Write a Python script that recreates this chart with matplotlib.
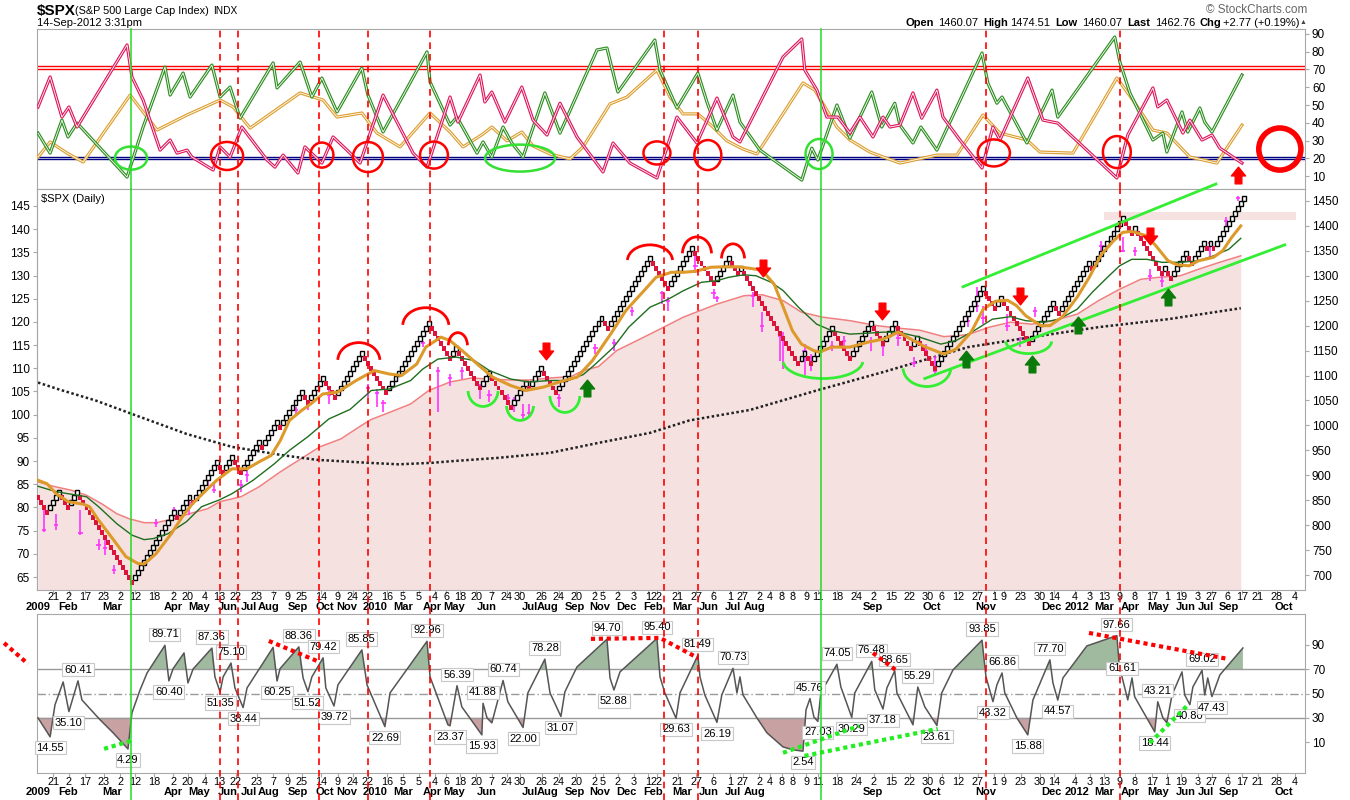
import matplotlib
matplotlib.use("Agg")
import matplotlib.pyplot as plt
import matplotlib.patheffects as pe
from matplotlib.patches import Ellipse, Arc
from matplotlib.path import Path
import numpy as np

plt.rcParams['font.family'] = ['Liberation Sans', 'DejaVu Sans']

# ---------------- data ----------------
# renko reversal levels (price / 10), box size 10 points
renko_turns = [87, 82, 87, 83, 87, 68, 83, 81, 86, 84, 93, 90, 94, 90, 97, 95, 101, 99, 107, 104,
               110, 105, 115, 106, 121, 113, 116, 107, 111, 103, 109, 107, 112, 106, 122, 119, 134,
               127, 136, 128, 134, 130, 132, 112, 115, 112, 120, 113, 121, 116, 121, 115, 118, 111,
               128, 123, 126, 116, 125, 122, 133, 131, 142, 138, 140, 130, 132, 129, 135, 132, 137,
               135, 137, 135, 146]
box = 10

# moving averages (x = brick number)
ma_short_x = [0, 3, 6, 10, 15, 17, 20, 25, 29, 33, 35, 39, 44, 48, 51, 56, 59, 64, 69, 73, 77, 80, 83, 87,
              90, 94, 99, 105, 111, 116, 120, 125, 128, 133, 136, 140, 145, 150, 156, 161, 167, 172, 178,
              183, 189, 194, 200, 204, 209, 213, 217, 222, 226, 231, 235, 239, 243, 246, 249, 252, 256,
              258, 262, 268, 274, 279, 284, 289, 293, 299, 303, 308, 312, 316, 320, 323, 326, 331, 334,
              338, 343, 347, 351, 355, 358, 361, 366, 369, 373, 376, 380, 383, 388, 391, 394, 397]
ma_short_y = [890, 883, 863, 847, 842, 837, 810, 770, 737, 723, 722, 743, 783, 820, 843, 873, 890, 913, 913,
              927, 940, 970, 1010, 1030, 1043, 1063, 1067, 1090, 1110, 1103, 1100, 1123, 1157, 1177, 1170,
              1150, 1123, 1097, 1080, 1070, 1077, 1087, 1097, 1130, 1183, 1230, 1270, 1297, 1307, 1307,
              1309, 1317, 1318, 1318, 1315, 1311, 1283, 1237, 1190, 1163, 1150, 1147, 1157, 1157, 1167,
              1173, 1187, 1170, 1157, 1143, 1153, 1187, 1233, 1249, 1251, 1240, 1220, 1200, 1200, 1217,
              1257, 1297, 1343, 1370, 1387, 1389, 1380, 1360, 1330, 1322, 1320, 1330, 1337, 1350, 1377, 1400]
ma_mid_x = [0, 6, 13, 16, 20, 26, 31, 35, 38, 43, 49, 54, 60, 64, 71, 78, 83, 89, 96, 103, 110, 116, 123,
            127, 132, 138, 144, 149, 156, 162, 169, 175, 180, 184, 190, 195, 202, 208, 213, 219, 224, 228,
            233, 237, 242, 246, 251, 257, 262, 268, 274, 279, 284, 291, 298, 303, 309, 315, 321, 326, 332,
            337, 343, 348, 353, 357, 361, 366, 371, 377, 383, 388, 393, 397]
ma_mid_y = [878, 867, 860, 857, 837, 803, 780, 771, 773, 783, 807, 837, 851, 863, 890, 923, 950, 977, 1013,
            1032, 1070, 1073, 1090, 1113, 1133, 1137, 1130, 1110, 1093, 1087, 1090, 1090, 1102, 1123, 1157,
            1197, 1237, 1253, 1270, 1287, 1290, 1297, 1302, 1300, 1287, 1270, 1237, 1203, 1190, 1183, 1185,
            1187, 1187, 1177, 1163, 1170, 1190, 1213, 1218, 1210, 1207, 1213, 1233, 1267, 1297, 1320, 1333,
            1333, 1327, 1327, 1330, 1340, 1353, 1375]
ma_long_x = [0, 5, 11, 16, 21, 26, 30, 35, 39, 45, 50, 56, 60, 67, 73, 80, 86, 93, 100, 106, 110, 116, 123,
             129, 136, 143, 149, 156, 162, 169, 176, 180, 185, 191, 202, 213, 224, 233, 239, 246, 252, 259,
             268, 277, 284, 291, 299, 307, 314, 321, 328, 335, 343, 350, 357, 364, 370, 377, 383, 390, 397]
ma_long_y = [887, 878, 870, 860, 843, 823, 813, 805, 805, 813, 823, 833, 847, 857, 877, 907, 930, 957, 973,
             997, 1012, 1026, 1043, 1070, 1087, 1095, 1093, 1091, 1091, 1095, 1098, 1110, 1118, 1150, 1183,
             1217, 1243, 1260, 1262, 1250, 1227, 1217, 1210, 1200, 1195, 1191, 1178, 1182, 1197, 1207, 1203,
             1210, 1223, 1250, 1273, 1293, 1297, 1300, 1313, 1327, 1340]
ma200_x = [0, 7, 19, 31, 49, 64, 81, 92, 109, 119, 130, 136, 152, 169, 185, 202, 215, 235, 257, 279, 307,
           328, 350, 373, 397]
ma200_y = [1086, 1072, 1050, 1023, 983, 957, 940, 931, 925, 922, 925, 928, 935, 945, 965, 985, 1010, 1031,
           1070, 1107, 1157, 1177, 1197, 1213, 1235]

# closes / ranges drawn as magenta ticks
wick_x = [2, 6, 14, 20, 22, 25, 39, 45, 50, 56, 58, 67, 69, 85, 89, 96, 109, 112, 114, 127, 132, 136, 140,
          146, 149, 155, 157, 160, 162, 172, 184, 190, 196, 206, 208, 217, 223, 224, 236, 239, 245, 246,
          253, 255, 262, 266, 275, 279, 284, 289, 293, 296, 307, 310, 312, 320, 324, 329, 351, 358, 362,
          367, 371, 387, 392, 396]
wick_lo = [787, 790, 780, 750, 740, 703, 797, 817, 820, 878, 865, 867, 887, 1023, 1030, 1043, 1057, 1037,
           1027, 1157, 1027, 1080, 1093, 1053, 1047, 1043, 1027, 1010, 1017, 1037, 1143, 1150, 1220, 1243,
           1230, 1305, 1253, 1247, 1237, 1187, 1130, 1113, 1102, 1110, 1150, 1160, 1150, 1140, 1160, 1117,
           1140, 1103, 1197, 1227, 1203, 1190, 1157, 1217, 1350, 1347, 1340, 1290, 1277, 1333, 1400, 1450]
wick_hi = [830, 823, 830, 773, 770, 720, 813, 837, 857, 900, 887, 890, 917, 1037, 1050, 1073, 1083, 1073,
           1050, 1170, 1117, 1103, 1117, 1083, 1070, 1063, 1057, 1043, 1043, 1063, 1163, 1173, 1238, 1270,
           1257, 1340, 1273, 1260, 1267, 1227, 1187, 1187, 1163, 1143, 1170, 1180, 1177, 1170, 1185, 1137,
           1163, 1140, 1223, 1277, 1240, 1223, 1177, 1237, 1370, 1377, 1357, 1313, 1300, 1370, 1417, 1460]
wick_cl = [791, 800, 785, 760, 755, 710, 805, 830, 845, 890, 870, 880, 900, 1030, 1040, 1060, 1075, 1065,
           1045, 1165, 1110, 1095, 1110, 1080, 1060, 1055, 1050, 1020, 1025, 1055, 1155, 1165, 1230, 1265,
           1250, 1320, 1265, 1255, 1260, 1200, 1180, 1175, 1150, 1135, 1160, 1170, 1170, 1160, 1175, 1125,
           1150, 1110, 1210, 1240, 1215, 1200, 1165, 1230, 1360, 1350, 1350, 1300, 1290, 1365, 1410, 1455]

# top panel oscillators
pink_x = [0, 4, 7.9, 10.2, 12.9, 29.4, 31, 34.7, 40.3, 43.6, 45.9, 49.2, 50.8, 57.8, 60.1, 63.4, 67.3, 75.6,
          78.2, 80.9, 85.8, 88.1, 93.7, 97.4, 102, 106.3, 113.9, 123.8, 128.4, 136, 138.6, 145.9, 147.5,
          149.8, 154.1, 159.7, 163.4, 168, 172.3, 177.9, 186.5, 189.8, 195.4, 204.3, 210.9, 217.5, 224.1,
          229.4, 231.7, 245.9, 252.1, 253.1, 257.1, 260.4, 264, 268, 271.3, 275.6, 278.9, 281.2, 284.5,
          288.8, 291.7, 296.7, 298.7, 304.3, 311.6, 315.2, 317.5, 326.7, 331.7, 336.6, 346.2, 356.1, 359.7,
          368, 369.6, 372.6, 377.9, 380.2, 384.2, 387.5, 390.1, 397.4]
pink_y = [48.9, 65.8, 43.2, 48.9, 37.6, 83.8, 65.8, 52.8, 24.6, 30.3, 22.9, 24.6, 20.7, 13.4, 26.4, 20.7,
          37.6, 19, 15, 21.8, 11.7, 26.4, 17.3, 32, 24.6, 17.3, 55.6, 22.9, 15, 54.5, 40.4, 66.9, 51.7, 57.3,
          40.4, 60.1, 41.5, 33.1, 51, 32, 12.3, 28.6, 17.3, 8.9, 43.2, 28.6, 53.9, 32, 29.2, 77, 87.2, 69.7,
          58.4, 43.2, 43.2, 34.2, 43.2, 32, 43.2, 37.6, 38.7, 56.8, 42.6, 58.4, 43.2, 30.3, 14.5, 37.6, 30.3,
          65.2, 41.5, 39.8, 24.6, 8.9, 33.1, 59.6, 48.9, 52.8, 34.2, 41.5, 30.3, 33.1, 25.7, 17.3]
green_x = [0, 4, 7.9, 9.9, 12.9, 29.4, 34.7, 41.9, 43.6, 47.9, 50.2, 57.4, 60.1, 63.4, 66.7, 77.6, 78.9,
           86.5, 90.4, 93.7, 98.7, 106.9, 108.9, 113.9, 128.4, 129.4, 136, 138.3, 144.9, 146.9, 149.8, 153.5,
           156.4, 160.1, 167.3, 172.3, 184.5, 187.8, 191.4, 203.6, 205.3, 210.9, 217.8, 220.8, 224.1, 229.4,
           231.7, 238.3, 252.1, 255.4, 257.4, 263.7, 268, 275.2, 278.5, 282.8, 284.5, 288.8, 291.4, 296.7,
           311.6, 313.5, 316.5, 318.2, 326.4, 334.7, 336.6, 355.4, 357.1, 360.4, 368, 371.3, 372.6, 377.6,
           379.5, 383.5, 385.1, 387.5, 397.4]
green_y = [34.2, 22.9, 41.5, 32, 39.8, 9.4, 37.6, 71.4, 55.6, 68, 54.5, 72.5, 54.5, 60.1, 42.6, 73.7, 59.6,
           74.2, 54.5, 65.2, 46.1, 70.8, 55.6, 34.8, 79.9, 63, 38.7, 43.2, 22.9, 29.2, 20.7, 37.6, 28.6, 20.7,
           56.8, 34.2, 81, 82.1, 57.3, 86.6, 69.7, 48.3, 68, 51.7, 35.9, 55.6, 40.4, 24.6, 7.7, 25.7, 19, 50,
           31.4, 57.3, 37.6, 51, 38.7, 28.6, 37.6, 24.6, 79.3, 62.4, 51, 54.5, 28.6, 58.4, 43.2, 88.3, 74.2,
           56.8, 30.3, 34.2, 23.5, 46.1, 34.8, 48.3, 40.4, 34.8, 66.9]
orange_x = [0, 4, 9.6, 14.9, 30.4, 39.3, 49.2, 60.1, 64.4, 70, 86.5, 94.1, 98.7, 106.9, 111.9, 119.5, 129.4,
            136, 140.3, 146.9, 149.8, 154.8, 159.7, 163.4, 169, 175.6, 179.9, 188.8, 194.4, 204.3, 208.6,
            212.9, 217.8, 222.8, 227.4, 232.7, 237.3, 252.5, 256.4, 263.7, 268, 274.6, 284.5, 296.7, 303.3,
            311.9, 317.5, 326.4, 330.7, 341.6, 356.1, 361.4, 368, 372.6, 380.2, 389.1, 397.4]
orange_y = [20.7, 29.2, 22.9, 17.9, 55.6, 35.9, 44.4, 52.8, 48.9, 37, 56.8, 52.8, 43.2, 45.5, 34.2, 26.4,
            45.5, 34.8, 26.4, 33.7, 37.6, 29.8, 34.8, 26.9, 22.4, 19.6, 26.4, 50.6, 54.5, 69.7, 54.5, 45, 45,
            37.6, 29.8, 25.2, 22.4, 62.4, 58.4, 37.6, 30.3, 23.5, 17.3, 21.8, 21.8, 44.4, 34.2, 30.3, 23.5,
            22.9, 65.2, 52.8, 35.9, 34.2, 20.7, 17.3, 38.7]

# bottom oscillator
osc_x = [0, 4, 5.6, 8.3, 10.2, 13.2, 14.5, 20.5, 24.8, 29.7, 31, 33.7, 36, 41.9, 43.2, 44.6, 48.2, 49.5,
         51.2, 57.4, 58.4, 60.1, 61.1, 63.7, 65, 67.7, 69, 77.6, 78.9, 79.9, 86.1, 87.5, 89.1, 90.4, 94.1,
         95, 97.7, 99, 106.9, 108.6, 114.5, 116.2, 128.4, 129.4, 135.3, 136, 138.3, 139.9, 146.5, 146.9,
         148.2, 149.8, 153.5, 155.1, 160.1, 161.7, 167.3, 169, 172.6, 173.9, 177.9, 187.8, 188.8, 190.1,
         192.1, 204.3, 205.3, 206.9, 210.6, 211.9, 217.8, 218.5, 220.1, 224.1, 225.7, 229.4, 230.7, 231.7,
         232.7, 237.3, 240.6, 245.9, 249.2, 252.5, 253.5, 254.8, 256.1, 257.4, 258.4, 263.7, 265, 268.6,
         269.6, 275.2, 276.2, 278.9, 280.2, 282.8, 283.5, 288.8, 290.4, 292.7, 296.7, 298.3, 302, 311.6,
         312.9, 315.2, 316.5, 318.2, 319.1, 323.1, 326.7, 328.4, 334, 335, 336.6, 338.3, 346.2, 356.1,
         356.8, 357.8, 359.7, 361.1, 362, 368.6, 369.6, 371.3, 372.6, 374.3, 377.6, 378.5, 380.2, 381.2,
         384.2, 385.1, 386.1, 387.5, 390.1, 397.7]
osc_y = [29.9, 14.3, 40.6, 59.5, 35.1, 60.4, 44.7, 28.3, 17.6, 4.3, 34, 53, 66.9, 89.7, 60.4, 70.5, 83.4,
         58.7, 70.2, 87.4, 63.7, 51.3, 63.7, 75.1, 54.6, 38.4, 54.6, 88, 60.3, 70.5, 88.4, 62.8, 51.5, 63.7,
         79.4, 54.6, 39.7, 57.1, 85.9, 57.1, 22.7, 50.5, 93, 63.7, 24.2, 23.4, 56.4, 39, 15.9, 41.9, 29.9,
         25.8, 60.7, 43.1, 22, 50.5, 78.3, 50.5, 31.1, 51.3, 71.9, 94.7, 62.8, 52.9, 67.8, 95.4, 63.7, 50.5,
         29.6, 50.5, 81.5, 63.7, 48.8, 26.2, 48.8, 70.7, 50.5, 63.7, 48.8, 29.9, 17.6, 6, 3.6, 2.5, 36.5,
         45.8, 30.7, 27, 50.5, 74.1, 55.4, 30.3, 50.5, 76.5, 53, 37.2, 54.6, 68.7, 50.5, 24.2, 55.3, 39,
         23.6, 50.5, 69.4, 93.9, 63.7, 43.3, 57.1, 66.9, 50.5, 29.9, 15.9, 44.7, 77.7, 58.7, 44.6, 62.8,
         89.2, 97.7, 76, 63.7, 44.7, 62.8, 47.2, 18.4, 43.2, 29.9, 25.8, 48.8, 67.8, 48.8, 40.8, 55.4, 69,
         48.8, 62.8, 47.4, 65.3, 87.5]
osc_lab_text = ['14.55', '35.10', '60.41', '4.29', '89.71', '60.40', '87.36', '51.35', '75.10', '38.44',
                '60.25', '88.36', '51.52', '79.42', '39.72', '85.85', '22.69', '92.96', '23.37', '56.39',
                '15.93', '41.88', '60.74', '22.00', '78.28', '31.07', '94.70', '52.88', '95.40', '29.63',
                '81.49', '26.19', '70.73', '2.54', '45.76', '27.03', '74.05', '30.29', '76.48', '37.18',
                '68.65', '55.29', '23.61', '93.85', '43.32', '66.86', '15.88', '77.70', '44.57', '97.66',
                '61.61', '18.44', '43.21', '40.80', '69.02', '47.43']
osc_lab_x = [4, 10.2, 13.2, 29.7, 41.9, 43.2, 57.4, 60.1, 63.7, 67.7, 78.9, 86.1, 89.1, 94.1, 97.7, 106.9,
             114.5, 128.4, 136, 138.3, 146.5, 146.9, 153.5, 160.1, 167.3, 172.6, 187.8, 190.1, 204.3, 210.6,
             217.8, 224.1, 229.4, 252.5, 254.8, 257.4, 263.7, 268.6, 275.2, 278.9, 282.8, 290.4, 296.7,
             311.6, 315.2, 318.2, 326.7, 334, 336.6, 356.1, 357.8, 368.6, 369.6, 380.2, 384.2, 387.5]
osc_lab_kind = ['T', 'T', 'P', 'T', 'P', 'T', 'P', 'T', 'P', 'T', 'T', 'P', 'T', 'P', 'T', 'P', 'T', 'P',
                'T', 'P', 'T', 'P', 'P', 'T', 'P', 'T', 'P', 'T', 'P', 'T', 'P', 'T', 'P', 'T', 'P', 'T',
                'P', 'T', 'P', 'T', 'P', 'P', 'T', 'P', 'T', 'P', 'T', 'P', 'T', 'P', 'P', 'T', 'P', 'T',
                'P', 'T']

# date axis labels (brick positions)
day_x = [5.0, 10.2, 15.5, 21.8, 27.1, 32.0, 38.3, 44.6, 49.5, 55.1, 59.7, 65.3, 72.3, 77.6, 82.5, 87.1,
         93.4, 99.0, 103.9, 108.9, 115.2, 120.5, 125.7, 131.0, 134.7, 139.3, 144.6, 149.8, 154.8, 159.1,
         166.3, 171.9, 177.6, 183.8, 186.5, 191.4, 196.7, 201.3, 204.3, 211.2, 217.2, 222.8, 228.4, 232.7,
         238.0, 241.6, 245.5, 249.2, 253.5, 257.4, 263.7, 270.0, 275.9, 281.8, 287.8, 293.7, 298.3, 303.9,
         310.2, 315.5, 318.8, 324.4, 330.7, 335.3, 342.2, 347.2, 351.8, 357.1, 362.0, 367.7, 372.6, 377.2,
         382.8, 387.5, 392.7, 397.4, 402.6, 408.9, 414.9]
day_text = ['21', '2', '17', '23', '2', '12', '18', '2', '20', '4', '13', '22', '23', '7', '9', '25', '14',
            '9', '24', '22', '16', '5', '5', '4', '6', '18', '20', '7', '24', '30', '26', '24', '20', '2',
            '5', '2', '3', '1', '22', '21', '27', '6', '1', '27', '2', '4', '8', '8', '9', '11', '18', '24',
            '2', '15', '22', '30', '6', '12', '27', '1', '9', '23', '30', '14', '4', '3', '13', '9', '8',
            '17', '1', '19', '3', '27', '6', '17', '21', '28', '4']
month_x = [0.1, 9.9, 24.4, 44.6, 53.1, 62.7, 69.6, 76.2, 85.8, 94.7, 102.0, 111.2, 120.5, 130.0, 137.3,
           148.2, 162.4, 168.3, 177.2, 185.5, 194.1, 203.0, 212.5, 221.5, 229.4, 236.6, 275.6, 295.0,
           312.9, 334.5, 342.8, 352.0, 360.4, 369.6, 378.8, 385.6, 393.2, 411.2]
month_text = ['2009', 'Feb', 'Mar', 'Apr', 'May', 'Jun', 'Jul', 'Aug', 'Sep', 'Oct', 'Nov', '2010', 'Mar',
              'Apr', 'May', 'Jun', 'Jul', 'Aug', 'Sep', 'Nov', 'Dec', 'Feb', 'Mar', 'Jun', 'Jul', 'Aug',
              'Sep', 'Oct', 'Nov', 'Dec', '2012', 'Mar', 'Apr', 'May', 'Jun', 'Jul', 'Sep', 'Oct']

# hand-drawn markup
red_vlines = [60.1, 66.0, 92.7, 108.9, 129.4, 206.6, 217.8, 312.9, 357.1]
green_vlines = [30.7, 258.4]
red_circ_x = [62.4, 93.7, 108.9, 130.7, 204.3, 221.1, 315.5, 356.1]
red_circ_y = [21.3, 21.8, 20.7, 21.8, 23.0, 21.8, 23.0, 23.5]
red_circ_w = [10.6, 7.6, 9.9, 9.2, 8.9, 8.9, 10.6, 9.2]
red_circ_h = [15.8, 14.1, 16.9, 15.2, 13.0, 16.9, 15.2, 18.0]
green_circ_x = [30.7, 159.1, 257.8]
green_circ_y = [20.1, 20.1, 22.4]
green_circ_w = [10.6, 23.1, 8.9]
green_circ_h = [13.0, 15.2, 16.9]
top_arcs_x = [105.9, 128.0, 138.6, 202.0, 217.5, 229.4]
top_arcs_y = [1130, 1200, 1160, 1330, 1344, 1334]
top_arcs_w = [13.9, 15.2, 6.3, 14.9, 9.6, 7.6]
top_arcs_h = [72, 72, 52, 64, 68, 60]
low_arcs_x = [146.9, 159.1, 173.9, 259.1, 293.4, 327.0]
low_arcs_y = [1070, 1040, 1060, 1130, 1116, 1170]
low_arcs_w = [9.9, 8.9, 9.9, 26.4, 15.8, 15.2]
low_arcs_h = [64, 60, 68, 72, 76, 52]
down_arrow_x = [167.7, 239.3, 278.5, 324.1, 367.0]
down_arrow_y = [1150, 1316, 1230, 1260, 1380]
up_arrow_x = [181.2, 306.3, 328.0, 343.2, 373.0]
up_arrow_y = [1076, 1134, 1124, 1202, 1258]

# ---------------- renko bricks ----------------
brick_lo, brick_dir = [], []
top = renko_turns[0]
bot = top - 1
for k in range(1, len(renko_turns)):
    tgt = renko_turns[k]
    if tgt < renko_turns[k - 1]:
        while bot > tgt:
            bot -= 1
            top = bot + 1
            brick_lo.append(bot)
            brick_dir.append(-1)
    else:
        while top < tgt:
            top += 1
            bot = top - 1
            brick_lo.append(bot)
            brick_dir.append(1)
brick_lo = np.array(brick_lo) * box
brick_dir = np.array(brick_dir)
bx = np.arange(len(brick_lo))

# ---------------- figure ----------------
W, H = 1350, 800
fig = plt.figure(figsize=(13.5, 8), dpi=100)
L, Wd = 37 / W, 1268 / W
ax1 = fig.add_axes([L, 1 - 189 / H, Wd, 160 / H])
ax2 = fig.add_axes([L, 1 - 590 / H, Wd, 401 / H])
ax3 = fig.add_axes([L, 1 - 773 / H, Wd, 159 / H])
XL = (-0.33, 418.2)
gray = '#a8a8a8'

for ax in (ax1, ax2, ax3):
    ax.set_xlim(*XL)
    for s in ax.spines.values():
        s.set_color(gray)
    ax.yaxis.tick_right()
    ax.tick_params(axis='y', which='both', direction='out', length=3, color=gray, labelsize=8.5, pad=2)
    ax.tick_params(axis='x', direction='out', length=3, color=gray, labelbottom=False)

# --- top panel ---
ax1.set_ylim(2.7, 92.8)
ax1.set_yticks(range(10, 91, 10))
ax1.set_xticks([])
for v in (71.8, 70.4):
    ax1.axhline(v, color='red', lw=1.0, zorder=2)
for v in (21.0, 19.5):
    ax1.axhline(v, color='#000080', lw=1.0, zorder=2)
for xs, ys, c in ((orange_x, orange_y, '#dda032'), (green_x, green_y, '#2f8f22'), (pink_x, pink_y, '#e0195f')):
    ax1.plot(xs, ys, color=c, lw=2.2, zorder=3,
             path_effects=[pe.Stroke(linewidth=2.3, foreground=c), pe.Stroke(linewidth=0.6, foreground='white')])
for x, y, w, h in zip(red_circ_x, red_circ_y, red_circ_w, red_circ_h):
    ax1.add_patch(Ellipse((x, y), w, h, fill=False, ec='red', lw=1.8, zorder=5))
ax1.add_patch(Ellipse((409.9, 25.2), 13.9, 23.7, fill=False, ec='red', lw=4, zorder=5))
for x, y, w, h in zip(green_circ_x, green_circ_y, green_circ_w, green_circ_h):
    ax1.add_patch(Ellipse((x, y), w, h, fill=False, ec='#33e033', lw=1.8, zorder=5))

arrow_dn = Path([(-0.4, 1), (0.4, 1), (0.4, 0.05), (0.85, 0.05), (0, -1), (-0.85, 0.05), (-0.4, 0.05), (-0.4, 1)],
                [Path.MOVETO] + [Path.LINETO] * 6 + [Path.CLOSEPOLY])
arrow_up = Path([(x, -y) for x, y in arrow_dn.vertices], arrow_dn.codes)
ax1.plot([396], [10.6], marker=arrow_up, ms=12, color='red', mec='red', ls='none', zorder=6)

# --- main panel ---
ax2.set_ylim(670, 1474)
ax2.set_yticks(range(700, 1451, 50))
ax2.fill_between(ma_long_x, ma_long_y, 670, color='#f6e1e1', lw=0, zorder=1)
ax2.plot(ma_long_x, ma_long_y, color='#f08080', lw=1.1, zorder=2)
ax2.plot(ma200_x, ma200_y, color='#222222', lw=1.8, ls=(0, (1, 1)), zorder=2)
ax2.fill_between([351.8, 415.2], 1412, 1428, color='#f4d6d6', alpha=0.7, lw=0, zorder=1)
ax2.vlines(wick_x, wick_lo, wick_hi, color='#ff33ff', lw=1.2, zorder=3)
ax2.hlines(wick_cl, np.array(wick_x) - 0.7, np.array(wick_x) + 0.7, color='#ff33ff', lw=1.2, zorder=3)
up = brick_dir > 0
ax2.bar(bx[up], box, bottom=brick_lo[up], width=1.3, facecolor='white', edgecolor='black', lw=1.0, zorder=4)
ax2.bar(bx[~up], box, bottom=brick_lo[~up], width=1.3, color='#dc143c', lw=0, zorder=4)
ax2.plot(ma_mid_x, ma_mid_y, color='#1f6e1f', lw=1.0, zorder=5)
ax2.plot(ma_short_x, ma_short_y, color='#dd9a2a', lw=2.2, zorder=5)
ax2.plot([305.3, 388.8], [1278, 1484], color='#33ee33', lw=2, zorder=6, clip_on=False)
ax2.plot([292.7, 411.5], [1094, 1362], color='#33ee33', lw=2, zorder=6)
for x, y, w, h in zip(top_arcs_x, top_arcs_y, top_arcs_w, top_arcs_h):
    ax2.add_patch(Arc((x, y), w, h, theta1=12, theta2=168, color='red', lw=2, zorder=6))
for x, y, w, h in zip(low_arcs_x, low_arcs_y, low_arcs_w, low_arcs_h):
    ax2.add_patch(Arc((x, y), w, h, theta1=192, theta2=348, color='#33ee33', lw=2, zorder=6))
ax2.plot(down_arrow_x, down_arrow_y, marker=arrow_dn, ms=12, color='red', ls='none', zorder=7)
ax2.plot(up_arrow_x, up_arrow_y, marker=arrow_up, ms=12, color='#0a7a0a', ls='none', zorder=7)
ax2.text(0.003, 0.988, '$SPX (Daily)', transform=ax2.transAxes, fontsize=8, va='top', ha='left')
sec = ax2.secondary_yaxis('left', functions=(lambda p: 65 + (p - 696) / 9.3, lambda q: 696 + (q - 65) * 9.3))
sec.set_yticks(range(65, 146, 5))
sec.tick_params(direction='out', length=3, color=gray, labelsize=8.5, pad=2)
sec.spines['left'].set_color(gray)

# --- bottom panel ---
ax3.set_ylim(-15.5, 115.5)
ax3.set_yticks([10, 30, 50, 70, 90])
ox, oy = np.array(osc_x), np.array(osc_y)
ax3.fill_between(ox, oy, 70, where=oy >= 70, interpolate=True, color='#a0baa0', lw=0, zorder=1)
ax3.fill_between(ox, oy, 30, where=oy <= 30, interpolate=True, color='#c8a2a2', lw=0, zorder=1)
ax3.axhline(70, color='#999999', lw=1, zorder=2)
ax3.axhline(30, color='#999999', lw=1, zorder=2)
ax3.axhline(50, color='#999999', lw=1, ls=(0, (6, 2, 1, 2)), zorder=2)
ax3.plot(ox, oy, color='#555555', lw=1.1, zorder=3)
for txt, xi, kind in zip(osc_lab_text, osc_lab_x, osc_lab_kind):
    dy = 8 if kind == 'P' else -8
    ax3.annotate(txt, (xi, float(txt)), xytext=(0, dy), textcoords='offset points', ha='center', va='center',
                 fontsize=8, zorder=6,
                 bbox=dict(boxstyle='square,pad=0.15', fc='white', ec='#c8c8c8', lw=0.8))
dot = (0, (1, 0.9))
ax3.plot([-11.2, -3.3], [91.6, 74.4], color='red', lw=3, ls=dot, clip_on=False, zorder=7)
ax3.plot([21.8, 30.7], [4.4, 11.0], color='#22ee22', lw=3, ls=dot, zorder=7)
ax3.plot([76.2, 92.1], [93.3, 76.8], color='red', lw=3, ls=dot, zorder=7)
ax3.plot([182.5, 205.3, 217.8], [95.0, 95.8, 79.3], color='red', lw=3, ls=dot, zorder=7)
ax3.plot([245.9, 271.0], [1.1, 23.3], color='#22ee22', lw=3, ls=dot, zorder=7)
ax3.plot([253.0, 297.0], [-1.4, 20.9], color='#22ee22', lw=3, ls=dot, zorder=7)
ax3.plot([275.6, 283.5], [83.4, 68.6], color='red', lw=3, ls=dot, zorder=7)
ax3.plot([346.9, 392.7], [99.9, 78.5], color='red', lw=3, ls=dot, zorder=7)
ax3.plot([367.0, 379.9], [9.3, 41.4], color='#22ee22', lw=3, ls=dot, zorder=7)

# vertical markup lines across panels
for ax, lo in ((ax1, 0), (ax2, -0.06), (ax3, -0.17)):
    for x in red_vlines:
        ax.axvline(x, ymin=lo, ymax=1, color='red', lw=1.2, ls=(0, (4, 3)), clip_on=False, zorder=8)
    for x in green_vlines:
        ax.axvline(x, ymin=lo, ymax=1, color='#22dd22', lw=1.1, clip_on=False, zorder=8)

# date rows
for ax, yd, ym in ((ax2, -0.018, -0.043), (ax3, -0.057, -0.12)):
    ax.set_xticks(day_x)
    tr = ax.get_xaxis_transform()
    for x, t in zip(day_x, day_text):
        ax.text(x, yd, t, transform=tr, ha='center', va='center', fontsize=7.8, clip_on=False)
    for x, t in zip(month_x, month_text):
        ax.text(x, ym, t, transform=tr, ha='center', va='center', fontsize=8, fontweight='bold', clip_on=False)

# header
def ftext(px, py, s, **kw):
    fig.text(px / W, 1 - py / H, s, va='center', **kw)

ftext(37, 11, '$SPX', fontsize=11, fontweight='bold')
ftext(75, 11, '(S&P 500 Large Cap Index)', fontsize=7.8)
ftext(213, 11, 'INDX', fontsize=7.3)
ftext(37, 23, '14-Sep-2012 3:31pm', fontsize=8)
ftext(1307, 10, '\u00a9 StockCharts.com', fontsize=8.5, color='#666666', ha='right')
for px, s, b in ((906, 'Open', True), (938, '1460.07', False), (983, 'High', True), (1010, '1474.51', False),
                 (1055, 'Low', True), (1082, '1460.07', False), (1127, 'Last', True), (1155, '1462.76', False),
                 (1199, 'Chg', True), (1223, '+2.77 (+0.19%)', False)):
    ftext(px, 23, s, fontsize=8, fontweight='bold' if b else 'normal')
ftext(1300, 22, '\u25b2', fontsize=5, color='#444444')

fig.savefig('out.png', dpi=100)
